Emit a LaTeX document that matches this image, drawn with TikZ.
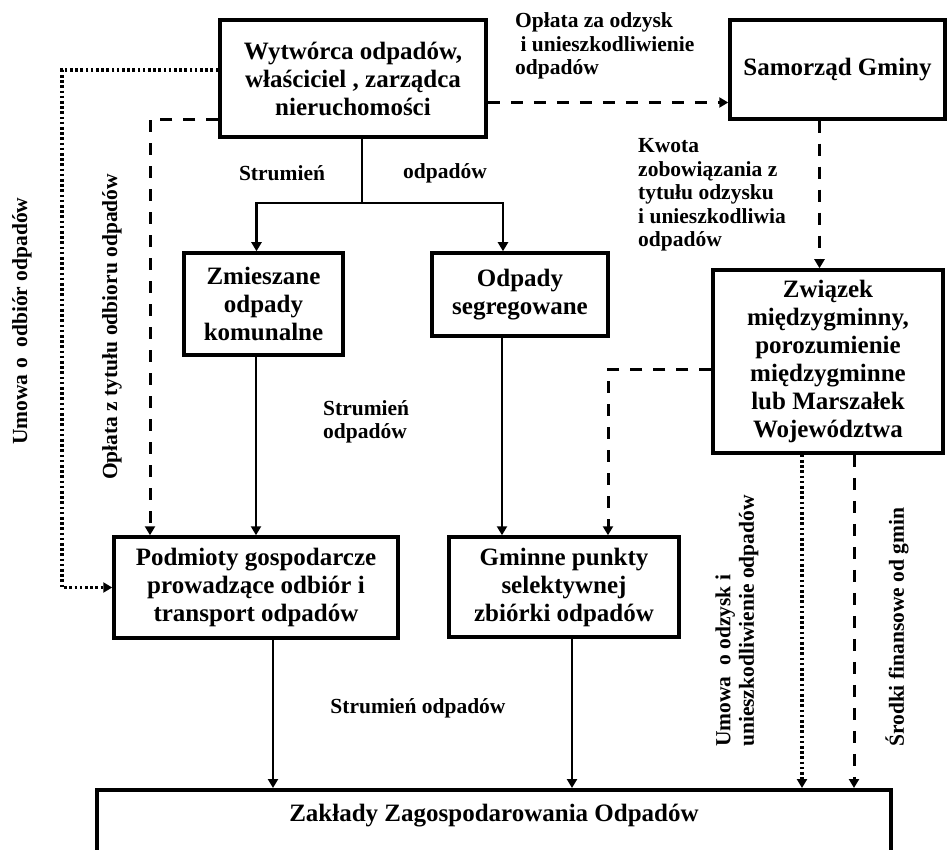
\documentclass[tikz,border=0pt]{standalone}
\usepackage{fontspec}
\setmainfont{Liberation Serif}
\usetikzlibrary{arrows.meta}
\newcommand{\boxfont}{\fontsize{25}{28}\selectfont\bfseries}
\newcommand{\lblfont}{\fontsize{21.5}{23.5}\selectfont\bfseries}

\begin{document}
\begin{tikzpicture}[x=1pt,y=-1pt,
	box/.style={draw,line width=3.5pt,align=center,font=\boxfont,inner sep=0pt},
	lbl/.style={font=\lblfont,align=left,inner sep=0pt},
	flow/.style={line width=2.4pt,-{Triangle[length=9pt,width=10pt]}},
	money/.style={flow,line width=3pt,dash pattern=on 12pt off 11pt},
	contract/.style={flow,line width=3.2pt,dash pattern=on 2.6pt off 2.6pt}]
	\useasboundingbox (0,0) rectangle (948,850);
	\clip (0,0) rectangle (948,850);

	\node[box,minimum width=266pt,minimum height=117pt] (wytworca) at (353,78.5) {Wytwórca odpadów,\\właściciel , zarządca\\nieruchomości};
	\node[box,minimum width=215pt,minimum height=99pt] (samorzad) at (837.5,69.5) {Samorząd Gminy};
	\node[box,minimum width=159pt,minimum height=102pt] (zmieszane) at (263.5,304) {Zmieszane\\odpady\\komunalne};
	\node[box,minimum width=176pt,minimum height=83pt] (segregowane) at (520,294.5) {Odpady\\segregowane};
	\node[box,minimum width=230pt,minimum height=183pt] (zwiazek) at (828,361.5) {Związek\\międzygminny,\\porozumienie\\międzygminne\\lub Marszałek\\Województwa};
	\node[box,minimum width=284pt,minimum height=101pt] (podmioty) at (256,587.5) {Podmioty gospodarcze\\prowadzące odbiór i\\transport odpadów};
	\node[box,minimum width=230pt,minimum height=100pt] (gminne) at (564,587) {Gminne punkty\\selektywnej\\zbiórki odpadów};
	\node[box,anchor=north,minimum width=794pt,text height=24pt,text depth=100pt,inner ysep=8pt] (zaklady) at (494,788) {Zakłady Zagospodarowania Odpadów};

	% strumien odpadow
	\coordinate (split) at (362,203);
	\draw[line width=2.4pt] (wytworca.south -| split) -- (split);
	\draw[flow] (split) -| ([xshift=-7pt]zmieszane.north);
	\draw[flow] (split) -| ([xshift=-17pt]segregowane.north);
	\draw[flow] (zmieszane.south -| podmioty.north) -- (podmioty.north);
	\draw[flow] ([xshift=-18pt]segregowane.south) -- ([xshift=-62pt]gminne.north);
	\foreach \s/\dx in {podmioty/17,gminne/8}
		\draw[flow] ([xshift=\dx pt]\s.south) -- ([xshift=\dx pt]\s.south |- zaklady.north);

	% oplaty
	\draw[money] ([yshift=-24pt]wytworca.east) -- ([yshift=-24pt]wytworca.east -| samorzad.west);
	\draw[money] ([xshift=-18pt]samorzad.south) -- ([xshift=-18pt]samorzad.south |- zwiazek.north);
	\draw[money] ([yshift=-41pt]wytworca.west) -| ([xshift=-106pt]podmioty.north);
	\draw[money] ([yshift=-8pt]zwiazek.west) -| ([xshift=44pt]gminne.north);
	\draw[money] ([xshift=26pt]zwiazek.south) -- ([xshift=26pt]zwiazek.south |- zaklady.north);

	% umowy
	\coordinate (lbend) at (62,70);
	\draw[contract] (lbend -| wytworca.west) -- (lbend) |- (podmioty.west);
	\draw[contract] ([xshift=-26pt]zwiazek.south) -- ([xshift=-26pt]zwiazek.south |- zaklady.north);

	\node[lbl] (s1) at (282,173) {Strumień};
	\node[lbl] (s2) at (445,173) {odpadów};
	\node[lbl,anchor=west] (s3) at (323,422) {Strumień\\odpadów};
	\node[lbl] (s4) at (418,708) {Strumień odpadów};
	\node[lbl,anchor=west] (oplata) at (515,46) {Opłata za odzysk\\\ i unieszkodliwienie\\odpadów};
	\node[lbl,anchor=west] (kwota) at (638,195) {Kwota\\zobowiązania z\\tytułu odzysku\\i unieszkodliwia\\odpadów};
	\node[lbl,rotate=90,anchor=west] (umowa) at (22,445) {Umowa o\ \ odbiór odpadów};
	\node[lbl,rotate=90,anchor=west] (odbior) at (112,480) {Opłata z tytułu odbioru odpadów};
	\node[lbl,rotate=90,anchor=west] (odzysk) at (737,747) {Umowa\ \ o odzysk i\\unieszkodliwienie odpadów};
	\node[lbl,rotate=90,anchor=west] (srodki) at (897,747) {Środki finansowe od gmin};
\end{tikzpicture}
\end{document}
